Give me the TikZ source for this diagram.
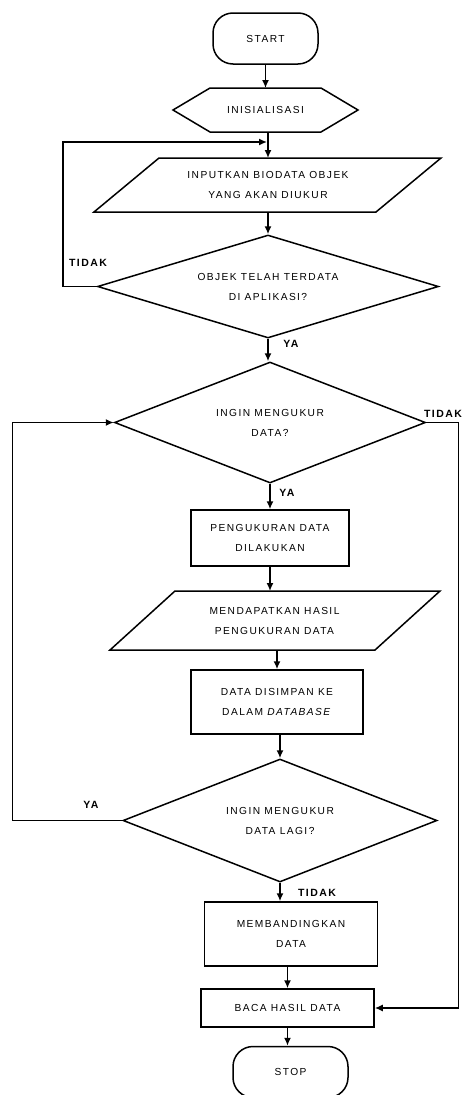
\documentclass[tikz,border=0pt]{standalone}
\usepackage{fontspec}
\setmainfont{Liberation Sans}
\newfontfamily\chartfont[LetterSpace=14]{Liberation Sans}
\usetikzlibrary{shapes.geometric,arrows.meta}

\tikzset{
  every node/.style={font=\chartfont\fontsize{10.2}{20}\selectfont, align=center},
  terminal/.style={draw, rounded corners=20pt, minimum width=105pt, minimum height=51pt},
  hexbox/.style={inner sep=0pt, outer sep=0pt, minimum width=185pt, minimum height=44pt},
  iobox/.style={inner sep=0pt, outer sep=0pt},
  process/.style={draw, inner sep=0pt},
  decision/.style={draw, diamond, aspect=3, inner sep=0pt},
  answer/.style={font=\chartfont\bfseries\fontsize{10.5}{12}\selectfont},
  arrow/.style={-{Latex[length=8pt,width=7pt]}}
}

\begin{document}
\begin{tikzpicture}[x=1pt, y=-1pt, line width=1.5pt]
  \useasboundingbox (0,0) rectangle (465,1095);

  \node (start) [terminal] at (265.5,38.5) {START};
  \node (init) [hexbox] at (265.5,110) {INISIALISASI};
  \draw (init.west) -- ++(37,-22) -- ++(111,0) -- ++(37,22) -- ++(-37,22) -- ++(-111,0) -- cycle;
  \node (input) [iobox, minimum width=282pt, minimum height=54pt] at (268,185)
        {INPUTKAN BIODATA OBJEK\\YANG AKAN DIUKUR};
  \draw ([xshift=-33pt]input.south west) -- ++(65,-54) -- ++(282,0) -- ++(-65,54) -- cycle;
  \node (cek) [decision, minimum width=341pt, minimum height=103pt] at (268,286.5)
        {OBJEK TELAH TERDATA\\DI APLIKASI?};
  \node (ukur) [decision, minimum width=311pt, minimum height=121pt] at (270,422.5)
        {INGIN MENGUKUR\\DATA?};
  \node (proses) [process, minimum width=158pt, minimum height=56pt] at (270,538)
        {PENGUKURAN DATA\\DILAKUKAN};
  \node (hasil) [iobox, minimum width=265pt, minimum height=59pt] at (274.5,620.5)
        {MENDAPATKAN HASIL\\PENGUKURAN DATA};
  \draw ([xshift=-32pt]hasil.south west) -- ++(65,-59) -- ++(265,0) -- ++(-65,59) -- cycle;
  \node (simpan) [process, minimum width=172pt, minimum height=64pt] at (277,702)
        {DATA DISIMPAN KE\\DALAM \textit{DATABASE}};
  \node (lagi) [decision, minimum width=314pt, minimum height=123pt] at (280,820.5)
        {INGIN MENGUKUR\\DATA LAGI?};
  \node (banding) [process, minimum width=173pt, minimum height=64pt] at (291,934)
        {MEMBANDINGKAN\\DATA};
  \node (baca) [process, minimum width=173pt, minimum height=38pt] at (287.5,1008)
        {BACA HASIL DATA};
  \node (stop) [terminal, minimum width=115pt] at (290.5,1072) {STOP};

  \coordinate (back) at (267,142);

  \draw[arrow] (start.south) -- (init.north);
  \draw[arrow] (init.south -| input.north) -- (input.north);
  \draw[arrow] (input.south) -- (cek.north);
  \draw[arrow] (cek.west) -- ++(-34,0) |- (back);
  \draw[arrow] (cek.south) -- (cek.south |- ukur.north);
  \draw[arrow] (ukur.south) -- (proses.north);
  \draw[arrow] (ukur.east) -- ++(32,0) |- (baca.east);
  \draw[arrow] (proses.south) -- (proses.south |- hasil.north);
  \draw[arrow] (hasil.south -| simpan.north) -- (simpan.north);
  \draw[arrow] (simpan.south -| lagi.north) -- (lagi.north);
  \draw[arrow] (lagi.west) -- ++(-110,0) |- (ukur.west);
  \draw[arrow] (lagi.south) -- (lagi.south |- banding.north);
  \draw[arrow] (banding.south -| baca.north) -- (baca.north);
  \draw[arrow] (baca.south) -- (baca.south |- stop.north);

  \node (t1) [answer] at (88,262.5) {TIDAK};
  \node (y1) [answer] at (291,344) {YA};
  \node (t2) [answer] at (443,414) {TIDAK};
  \node (y2) [answer] at (287,493) {YA};
  \node (y3) [answer] at (91,805) {YA};
  \node (t3) [answer] at (317,893) {TIDAK};
\end{tikzpicture}
\end{document}
